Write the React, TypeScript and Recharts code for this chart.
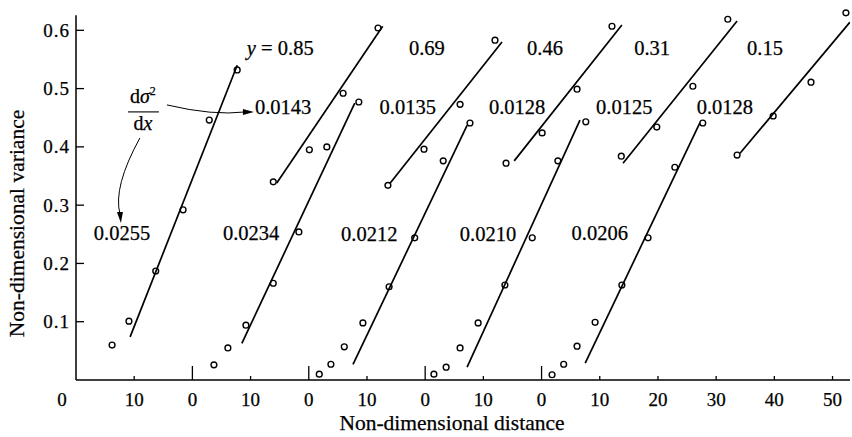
import React from 'react';
import { ComposedChart, XAxis, YAxis, Scatter, Line, ReferenceLine } from 'recharts';

const FONT = '"Liberation Serif", "Times New Roman", Times, serif';

// ---- measured points (x = non-dimensional distance on shared axis, y = variance) ----
const g1LowX = [-73.8, -70.9, -66.3, -61.6, -57.1, -52.3];
const g1LowY = [0.06, 0.101, 0.187, 0.292, 0.446, 0.532];
const g1LowFitX = [-70.7, -52.3];
const g1LowFitY = [0.074, 0.54];
const g1UpX = [-46.1, -39.9, -34.1, -28.1];
const g1UpY = [0.34, 0.395, 0.492, 0.604];
const g1UpFitX = [-45.5, -27.3];
const g1UpFitY = [0.338, 0.607];

const g2LowX = [-56.3, -53.9, -50.8, -46.1, -41.7, -36.9, -31.4];
const g2LowY = [0.026, 0.055, 0.094, 0.166, 0.254, 0.4, 0.477];
const g2LowFitX = [-51.5, -32.1];
const g2LowFitY = [0.063, 0.475];
const g2UpX = [-26.4, -20.2, -14.0, -8.0];
const g2UpY = [0.334, 0.396, 0.473, 0.583];
const g2UpFitX = [-26.0, -6.8];
const g2UpFitY = [0.338, 0.58];

const g3LowX = [-38.2, -36.2, -33.9, -30.7, -26.2, -21.8, -16.9, -12.3];
const g3LowY = [0.01, 0.027, 0.057, 0.098, 0.16, 0.244, 0.376, 0.441];
const g3LowFitX = [-32.4, -12.8];
const g3LowFitY = [0.027, 0.437];
const g3UpX = [-6.1, 0.1, 6.1, 12.1];
const g3UpY = [0.372, 0.424, 0.499, 0.607];
const g3UpFitX = [-4.7, 13.8];
const g3UpFitY = [0.376, 0.609];

const g4LowX = [-18.5, -16.4, -14.0, -10.9, -6.3, -1.6, 2.8, 7.6];
const g4LowY = [0.01, 0.022, 0.055, 0.098, 0.163, 0.244, 0.376, 0.443];
const g4LowFitX = [-12.8, 6.6];
const g4LowFitY = [0.022, 0.446];
const g4UpX = [13.7, 19.8, 26.0, 32.0];
const g4UpY = [0.384, 0.434, 0.504, 0.619];
const g4UpFitX = [14.0, 33.6];
const g4UpFitY = [0.372, 0.616];

const g5LowX = [1.8, 3.8, 6.1, 9.2, 13.8, 18.3, 22.9, 27.7];
const g5LowY = [0.009, 0.027, 0.058, 0.099, 0.163, 0.244, 0.365, 0.441];
const g5LowFitX = [7.5, 27.2];
const g5LowFitY = [0.029, 0.441];
const g5UpX = [33.6, 39.8, 46.3, 52.3];
const g5UpY = [0.386, 0.453, 0.511, 0.63];
const g5UpFitX = [34.1, 53.0];
const g5UpFitY = [0.389, 0.614];

// ---- text annotations ----
const yValueLabels = ['0.85', '0.69', '0.46', '0.31', '0.15'];
const yValueX = [-44.9, -19.7, 0.6, 19.0, 38.4];
const yValueY = [0.569, 0.569, 0.569, 0.569, 0.569];

const upSlopeLabels = ['0.0143', '0.0135', '0.0128', '0.0125', '0.0128'];
const upSlopeX = [-44.4, -23.0, -4.2, 14.2, 31.5];
const upSlopeY = [0.468, 0.468, 0.468, 0.468, 0.468];

const lowSlopeLabels = ['0.0255', '0.0234', '0.0212', '0.0210', '0.0206'];
const lowSlopeX = [-72.1, -49.9, -29.6, -9.2, 10.0];
const lowSlopeY = [0.252, 0.252, 0.25, 0.25, 0.252];

const fractionX = [-68.5];
const fractionY = [0.46];

// ---- axes ----
const xTicks = [-80, -70, -60, -50, -40, -30, -20, -10, 0, 10, 20, 30, 40, 50];
const xTickLabels = ['0', '10', '0', '10', '0', '10', '0', '10', '0', '10', '20', '30', '40', '50'];
const yTicks = [0.1, 0.2, 0.3, 0.4, 0.5, 0.6];
const yTickLabels = ['0.1', '0.2', '0.3', '0.4', '0.5', '0.6'];
const xDomain = [-80, 53];
const yDomain = [0, 0.64];
const yAxisTop = 0.626;

const pts = (xs: number[], ys: number[]) => xs.map((x, i) => ({ x, y: ys[i] }));
const labelPts = (xs: number[], ys: number[], t: string[]) => xs.map((x, i) => ({ x, y: ys[i], text: t[i] }));

const groups = [
  { c: pts(g1LowX, g1LowY), f: pts(g1LowFitX, g1LowFitY) },
  { c: pts(g1UpX, g1UpY), f: pts(g1UpFitX, g1UpFitY) },
  { c: pts(g2LowX, g2LowY), f: pts(g2LowFitX, g2LowFitY) },
  { c: pts(g2UpX, g2UpY), f: pts(g2UpFitX, g2UpFitY) },
  { c: pts(g3LowX, g3LowY), f: pts(g3LowFitX, g3LowFitY) },
  { c: pts(g3UpX, g3UpY), f: pts(g3UpFitX, g3UpFitY) },
  { c: pts(g4LowX, g4LowY), f: pts(g4LowFitX, g4LowFitY) },
  { c: pts(g4UpX, g4UpY), f: pts(g4UpFitX, g4UpFitY) },
  { c: pts(g5LowX, g5LowY), f: pts(g5LowFitX, g5LowFitY) },
  { c: pts(g5UpX, g5UpY), f: pts(g5UpFitX, g5UpFitY) },
];

const Circle = (p: any) => (
  <circle cx={p.cx} cy={p.cy} r={2.9} fill="none" stroke="#000" strokeWidth={1.4} />
);

const txt = { fontFamily: FONT, fill: '#000', stroke: '#000', strokeWidth: 0.25 } as const;

const SlopeText = (p: any) => (
  <text x={p.cx} y={p.cy} textAnchor="middle" dominantBaseline="central" fontSize={20.5} {...txt}>
    {p.payload.text}
  </text>
);

const YValueText = (p: any) => {
  const first = p.index === 0;
  return (
    <text x={p.cx} y={p.cy} textAnchor="middle" dominantBaseline="central" fontSize={20.5} {...txt}>
      {first ? (
        <>
          <tspan fontStyle="italic">y</tspan>
          <tspan> = {p.payload.text}</tspan>
        </>
      ) : (
        p.payload.text
      )}
    </text>
  );
};

const Fraction = (p: any) => {
  const cx = p.cx;
  const cy = p.cy;
  return (
    <g>
      <text x={cx} y={cy - 9} textAnchor="middle" fontSize={20} {...txt}>
        d<tspan fontStyle="italic">σ</tspan>
        <tspan fontSize={12} dy={-8}>2</tspan>
      </text>
      <line x1={cx - 15} x2={cx + 16} y1={cy} y2={cy} stroke="#000" strokeWidth={1.1} />
      <text x={cx} y={cy + 18} textAnchor="middle" fontSize={20} {...txt}>
        d<tspan fontStyle="italic">x</tspan>
      </text>
      <path
        d={`M ${cx + 24} ${cy - 7} Q ${cx + 70} ${cy + 4} ${cx + 103} ${cy}`}
        fill="none"
        stroke="#000"
        strokeWidth={1}
      />
      <path d={`M ${cx + 111} ${cy} L ${cx + 100} ${cy - 3} L ${cx + 100} ${cy + 3} Z`} fill="#000" />
      <path
        d={`M ${cx - 3} ${cy + 26} Q ${cx - 30} ${cy + 75} ${cx - 23} ${cy + 102}`}
        fill="none"
        stroke="#000"
        strokeWidth={1}
      />
      <path d={`M ${cx - 22} ${cy + 111} L ${cx - 26} ${cy + 100} L ${cx - 20} ${cy + 100} Z`} fill="#000" />
    </g>
  );
};

const XTick = (props: any) => {
  const { x, y, payload } = props;
  const i = xTicks.indexOf(payload.value);
  const label = xTickLabels[i];
  const origin = i === 0;
  const tall = label === '0' && !origin;
  return (
    <g>
      {!origin && (
        <line x1={x} x2={x} y1={y} y2={y - (tall ? 14 : 4)} stroke="#000" strokeWidth={1.3} />
      )}
      <text
        x={x + (origin ? -14 : 0)}
        y={y + 19}
        textAnchor="middle"
        dominantBaseline="central"
        fontSize={19}
        {...txt}
      >
        {label}
      </text>
    </g>
  );
};

const YTick = (props: any) => {
  const { x, y, payload } = props;
  const i = yTicks.indexOf(payload.value);
  return (
    <g>
      <line x1={x} x2={x + 8} y1={y} y2={y} stroke="#000" strokeWidth={1.3} />
      <text x={x - 6} y={y} textAnchor="end" dominantBaseline="central" fontSize={19} letterSpacing={1} {...txt}>
        {yTickLabels[i]}
      </text>
    </g>
  );
};

const YTitle = (p: any) => {
  const vb = p.viewBox || {};
  const cx = vb.x - 19;
  const cy = vb.y + vb.height / 2 + 30;
  return (
    <text
      x={cx}
      y={cy}
      transform={`rotate(-90 ${cx} ${cy})`}
      textAnchor="middle"
      dominantBaseline="central"
      fontSize={21.5}
      {...txt}
    >
      Non-dimensional variance
    </text>
  );
};

const XTitle = (p: any) => {
  const vb = p.viewBox || {};
  const cx = vb.x + vb.width / 2 - 11;
  const cy = vb.y + 43;
  return (
    <text x={cx} y={cy} textAnchor="middle" dominantBaseline="central" fontSize={21.5} {...txt}>
      Non-dimensional distance
    </text>
  );
};

export default function App() {
  return (
    <div style={{ position: 'fixed', left: 0, top: 0, width: 852, height: 437, background: '#fff' }}>
      <ComposedChart width={852} height={437} margin={{ top: 7, right: 2, left: 36, bottom: 27 }}>
        <XAxis
          type="number"
          dataKey="x"
          domain={xDomain}
          ticks={xTicks}
          interval={0}
          tick={<XTick />}
          tickLine={false}
          tickSize={0}
          tickMargin={0}
          axisLine={{ stroke: '#000', strokeWidth: 1.5 }}
          height={30}
          allowDataOverflow
          label={{ content: XTitle }}
        />
        <YAxis
          type="number"
          dataKey="y"
          domain={yDomain}
          ticks={yTicks}
          interval={0}
          tick={<YTick />}
          tickLine={false}
          tickSize={0}
          tickMargin={0}
          axisLine={false}
          width={40}
          allowDataOverflow
          label={{ content: YTitle }}
        />
        <ReferenceLine
          segment={[
            { x: xDomain[0], y: 0 },
            { x: xDomain[0], y: yAxisTop },
          ]}
          stroke="#000"
          strokeWidth={1.5}
          ifOverflow="visible"
        />
        {groups.map((g, i) => (
          <Line
            key={'f' + i}
            data={g.f}
            dataKey="y"
            type="linear"
            stroke="#000"
            strokeWidth={1.7}
            dot={false}
            activeDot={false}
            isAnimationActive={false}
          />
        ))}
        {groups.map((g, i) => (
          <Scatter key={'c' + i} data={g.c} shape={Circle} isAnimationActive={false} />
        ))}
        <Scatter data={labelPts(yValueX, yValueY, yValueLabels)} shape={YValueText} isAnimationActive={false} />
        <Scatter data={labelPts(upSlopeX, upSlopeY, upSlopeLabels)} shape={SlopeText} isAnimationActive={false} />
        <Scatter data={labelPts(lowSlopeX, lowSlopeY, lowSlopeLabels)} shape={SlopeText} isAnimationActive={false} />
        <Scatter data={pts(fractionX, fractionY)} shape={Fraction} isAnimationActive={false} />
      </ComposedChart>
    </div>
  );
}
